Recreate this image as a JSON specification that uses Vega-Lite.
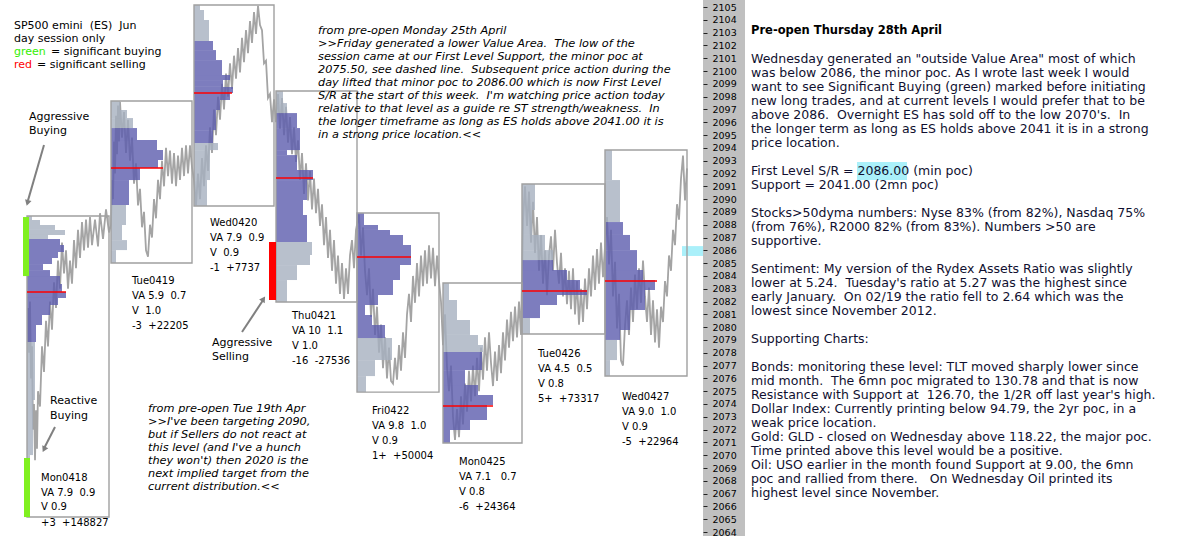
{
  "$schema": "https://vega.github.io/schema/vega-lite/v6.json",
  "padding": 0,
  "spacing": 0,
  "background": "white",
  "config": {"view": {"stroke": null}, "concat": {"spacing": 0}},
  "datasets": {
    "price": [
      {"t":28,"p":2081.5},{"t":29,"p":2078.0},{"t":30,"p":2082.0},{"t":31,"p":2076.0},{"t":32,"p":2078.5},{"t":33,"p":2072.0},{"t":34,"p":2074.0},{"t":35,"p":2069.6},{"t":36,"p":2073.5},{"t":37,"p":2070.5},{"t":38,"p":2075.0},{"t":40,"p":2073.8},{"t":42,"p":2078.5},{"t":44,"p":2076.5},{"t":46,"p":2080.5},{"t":48,"p":2078.5},{"t":50,"p":2082.0},{"t":52,"p":2079.8},{"t":54,"p":2083.5},{"t":56,"p":2081.5},{"t":58,"p":2085.2},{"t":60,"p":2083.0},{"t":62,"p":2086.6},{"t":64,"p":2084.2},{"t":66,"p":2086.0},{"t":68,"p":2083.0},{"t":70,"p":2085.2},{"t":72,"p":2083.4},{"t":74,"p":2086.8},{"t":76,"p":2084.6},{"t":78,"p":2087.6},{"t":80,"p":2085.4},{"t":82,"p":2088.2},{"t":84,"p":2086.0},{"t":86,"p":2088.4},{"t":88,"p":2086.2},{"t":90,"p":2088.6},{"t":92,"p":2086.4},{"t":95,"p":2088.4},{"t":98,"p":2086.3},{"t":100,"p":2088.9},{"t":103,"p":2086.9},{"t":106,"p":2089.2},{"t":109,"p":2087.4},
      {"t":111,"p":2088.0},{"t":112,"p":2091.5},{"t":113,"p":2090.0},{"t":114,"p":2094.5},{"t":115,"p":2092.0},{"t":116,"p":2096.5},{"t":117,"p":2093.5},{"t":118,"p":2097.3},{"t":119,"p":2094.5},{"t":120,"p":2097.6},{"t":122,"p":2094.8},{"t":124,"p":2096.8},{"t":126,"p":2093.6},{"t":128,"p":2096.2},{"t":130,"p":2093.0},{"t":132,"p":2094.8},{"t":134,"p":2091.2},{"t":136,"p":2092.8},{"t":138,"p":2089.5},{"t":140,"p":2090.8},{"t":142,"p":2087.8},{"t":144,"p":2089.0},{"t":146,"p":2086.0},{"t":148,"p":2085.5},{"t":150,"p":2088.0},{"t":152,"p":2087.0},{"t":154,"p":2090.0},{"t":156,"p":2088.5},{"t":158,"p":2091.5},{"t":160,"p":2090.0},{"t":162,"p":2093.0},{"t":164,"p":2091.0},{"t":166,"p":2094.0},{"t":168,"p":2091.8},{"t":170,"p":2093.8},{"t":172,"p":2091.2},{"t":174,"p":2093.6},{"t":176,"p":2091.0},{"t":178,"p":2093.4},{"t":180,"p":2091.5},{"t":182,"p":2094.0},{"t":184,"p":2091.8},{"t":186,"p":2094.2},{"t":188,"p":2092.0},{"t":190,"p":2094.2},{"t":192,"p":2092.5},
      {"t":194,"p":2091.5},{"t":196,"p":2089.5},{"t":198,"p":2092.0},{"t":200,"p":2090.0},{"t":202,"p":2093.2},{"t":204,"p":2091.0},{"t":206,"p":2094.2},{"t":208,"p":2092.2},{"t":210,"p":2095.6},{"t":212,"p":2093.6},{"t":214,"p":2097.0},{"t":216,"p":2095.0},{"t":218,"p":2098.0},{"t":220,"p":2096.2},{"t":222,"p":2099.0},{"t":224,"p":2097.0},{"t":226,"p":2099.8},{"t":228,"p":2098.0},{"t":230,"p":2100.6},{"t":232,"p":2098.6},{"t":234,"p":2101.2},{"t":236,"p":2099.4},{"t":238,"p":2101.8},{"t":240,"p":2099.9},{"t":242,"p":2102.6},{"t":244,"p":2100.7},{"t":246,"p":2103.2},{"t":248,"p":2101.4},{"t":250,"p":2103.9},{"t":252,"p":2102.2},{"t":254,"p":2104.6},{"t":256,"p":2102.9},{"t":258,"p":2105.1},{"t":260,"p":2103.6},{"t":262,"p":2103.2},{"t":264,"p":2100.6},{"t":266,"p":2100.8},{"t":268,"p":2097.9},{"t":270,"p":2098.2},{"t":272,"p":2096.0},{"t":274,"p":2097.8},
      {"t":276,"p":2096.0},{"t":278,"p":2098.2},{"t":280,"p":2095.5},{"t":282,"p":2097.9},{"t":284,"p":2095.0},{"t":286,"p":2097.2},{"t":288,"p":2094.4},{"t":290,"p":2096.4},{"t":292,"p":2093.5},{"t":294,"p":2095.6},{"t":296,"p":2092.9},{"t":298,"p":2094.6},{"t":300,"p":2091.5},{"t":302,"p":2093.6},{"t":304,"p":2090.4},{"t":306,"p":2092.8},{"t":308,"p":2089.9},{"t":310,"p":2092.2},{"t":312,"p":2089.2},{"t":314,"p":2091.6},{"t":316,"p":2088.9},{"t":318,"p":2090.8},{"t":320,"p":2087.9},{"t":322,"p":2089.6},{"t":324,"p":2086.4},{"t":326,"p":2088.6},{"t":328,"p":2085.4},{"t":330,"p":2087.6},{"t":332,"p":2084.4},{"t":334,"p":2086.8},{"t":336,"p":2083.4},{"t":338,"p":2085.6},{"t":340,"p":2082.6},{"t":342,"p":2085.0},{"t":344,"p":2082.2},{"t":346,"p":2084.6},{"t":348,"p":2082.6},{"t":350,"p":2085.6},{"t":352,"p":2086.8},{"t":354,"p":2084.6},{"t":356,"p":2087.6},
      {"t":359,"p":2088.8},{"t":361,"p":2085.6},{"t":363,"p":2087.8},{"t":365,"p":2084.4},{"t":367,"p":2082.5},{"t":369,"p":2084.6},{"t":371,"p":2080.8},{"t":373,"p":2083.0},{"t":375,"p":2079.4},{"t":377,"p":2081.6},{"t":379,"p":2078.0},{"t":381,"p":2080.2},{"t":383,"p":2076.8},{"t":385,"p":2079.2},{"t":387,"p":2076.0},{"t":389,"p":2078.4},{"t":391,"p":2075.8},{"t":393,"p":2075.6},{"t":395,"p":2077.6},{"t":397,"p":2075.9},{"t":399,"p":2078.6},{"t":401,"p":2076.6},{"t":403,"p":2079.6},{"t":405,"p":2077.6},{"t":407,"p":2081.0},{"t":409,"p":2082.6},{"t":411,"p":2080.4},{"t":413,"p":2084.0},{"t":415,"p":2081.9},{"t":417,"p":2085.0},{"t":419,"p":2082.4},{"t":421,"p":2085.6},{"t":423,"p":2083.2},{"t":425,"p":2086.0},{"t":427,"p":2083.4},{"t":429,"p":2086.4},{"t":431,"p":2083.8},{"t":433,"p":2086.2},{"t":435,"p":2083.2},{"t":437,"p":2085.6},{"t":439,"p":2083.6},
      {"t":441,"p":2082.0},{"t":443,"p":2078.6},{"t":445,"p":2081.0},{"t":447,"p":2076.9},{"t":449,"p":2075.0},{"t":451,"p":2077.0},{"t":453,"p":2073.0},{"t":455,"p":2071.2},{"t":457,"p":2073.6},{"t":459,"p":2071.4},{"t":461,"p":2074.6},{"t":463,"p":2072.4},{"t":465,"p":2075.6},{"t":467,"p":2073.4},{"t":469,"p":2076.6},{"t":471,"p":2074.2},{"t":473,"p":2077.0},{"t":475,"p":2074.6},{"t":477,"p":2077.6},{"t":479,"p":2075.0},{"t":481,"p":2078.4},{"t":483,"p":2075.9},{"t":485,"p":2079.2},{"t":487,"p":2076.6},{"t":489,"p":2079.6},{"t":491,"p":2077.2},{"t":493,"p":2075.4},{"t":495,"p":2078.1},{"t":497,"p":2075.8},{"t":499,"p":2078.6},{"t":501,"p":2076.4},{"t":503,"p":2079.6},{"t":505,"p":2077.4},{"t":507,"p":2080.6},{"t":509,"p":2078.4},{"t":511,"p":2081.2},{"t":513,"p":2078.9},{"t":515,"p":2081.6},{"t":517,"p":2079.2},{"t":519,"p":2082.0},{"t":521,"p":2079.4},
      {"t":523,"p":2088.4},{"t":525,"p":2091.0},{"t":527,"p":2087.9},{"t":529,"p":2090.6},{"t":531,"p":2086.6},{"t":533,"p":2089.8},{"t":535,"p":2085.8},{"t":537,"p":2088.6},{"t":539,"p":2084.4},{"t":541,"p":2087.2},{"t":543,"p":2083.4},{"t":545,"p":2086.0},{"t":547,"p":2082.5},{"t":549,"p":2085.6},{"t":551,"p":2087.1},{"t":553,"p":2084.4},{"t":555,"p":2087.6},{"t":557,"p":2085.0},{"t":559,"p":2083.4},{"t":561,"p":2085.8},{"t":563,"p":2082.4},{"t":565,"p":2084.6},{"t":567,"p":2081.8},{"t":569,"p":2084.4},{"t":571,"p":2081.4},{"t":573,"p":2084.6},{"t":575,"p":2081.0},{"t":577,"p":2083.6},{"t":579,"p":2080.2},{"t":581,"p":2083.0},{"t":583,"p":2080.4},{"t":585,"p":2083.8},{"t":587,"p":2081.4},{"t":589,"p":2084.6},{"t":591,"p":2082.4},{"t":593,"p":2085.6},{"t":595,"p":2082.9},{"t":597,"p":2086.1},{"t":599,"p":2083.4},{"t":601,"p":2086.6},{"t":603,"p":2083.9},
      {"t":607,"p":2088.6},{"t":609,"p":2084.9},{"t":611,"p":2087.6},{"t":613,"p":2082.4},{"t":615,"p":2085.1},{"t":617,"p":2079.9},{"t":619,"p":2082.6},{"t":621,"p":2077.4},{"t":623,"p":2077.0},{"t":625,"p":2080.1},{"t":627,"p":2082.1},{"t":629,"p":2079.4},{"t":631,"p":2083.1},{"t":633,"p":2080.4},{"t":635,"p":2084.1},{"t":637,"p":2081.4},{"t":639,"p":2084.6},{"t":641,"p":2081.9},{"t":643,"p":2085.2},{"t":645,"p":2082.4},{"t":647,"p":2080.4},{"t":649,"p":2083.1},{"t":651,"p":2079.4},{"t":653,"p":2082.1},{"t":655,"p":2078.8},{"t":657,"p":2081.4},{"t":659,"p":2078.4},{"t":661,"p":2081.6},{"t":663,"p":2080.4},{"t":665,"p":2083.6},{"t":667,"p":2082.4},{"t":669,"p":2085.6},{"t":671,"p":2084.4},{"t":673,"p":2087.6},{"t":675,"p":2086.4},{"t":677,"p":2089.6},{"t":679,"p":2088.4},{"t":681,"p":2091.6},{"t":683,"p":2093.4},{"t":685,"p":2089.9},{"t":687,"p":2092.4}
    ],
    "prof": [
      {"t":27,"t2":32,"p":2088.37,"p2":2088.68,"va":"out"},{"t":27,"t2":40,"p":2087.98,"p2":2088.37,"va":"out"},{"t":27,"t2":55,"p":2087.59,"p2":2087.98,"va":"out"},{"t":27,"t2":65,"p":2087.2,"p2":2087.59,"va":"out"},{"t":27,"t2":48,"p":2086.88,"p2":2087.2,"va":"out"},
      {"t":27,"t2":60,"p":2086.41,"p2":2086.88,"va":"in"},{"t":27,"t2":64,"p":2085.87,"p2":2086.41,"va":"in"},{"t":27,"t2":58,"p":2085.4,"p2":2085.87,"va":"in"},{"t":27,"t2":52,"p":2084.93,"p2":2085.4,"va":"in"},{"t":27,"t2":43,"p":2084.46,"p2":2084.93,"va":"in"},{"t":27,"t2":50,"p":2083.99,"p2":2084.46,"va":"in"},{"t":27,"t2":60,"p":2083.37,"p2":2083.99,"va":"in"},{"t":27,"t2":62,"p":2082.74,"p2":2083.37,"va":"in"},{"t":27,"t2":66,"p":2082.28,"p2":2082.74,"va":"in"},{"t":27,"t2":58,"p":2081.73,"p2":2082.28,"va":"in"},{"t":27,"t2":50,"p":2080.95,"p2":2081.73,"va":"in"},{"t":27,"t2":42,"p":2080.17,"p2":2080.95,"va":"in"},{"t":27,"t2":36,"p":2078.84,"p2":2080.17,"va":"in"},
      {"t":27,"t2":35,"p":2074.31,"p2":2078.84,"va":"out"},{"t":27,"t2":33,"p":2070.01,"p2":2074.31,"va":"out"},{"t":27,"t2":30,"p":2065.17,"p2":2070.01,"va":"out"},
      {"t":111,"t2":120,"p":2096.96,"p2":2097.66,"va":"out"},{"t":111,"t2":127,"p":2096.33,"p2":2096.96,"va":"out"},{"t":111,"t2":133,"p":2095.55,"p2":2096.33,"va":"out"},
      {"t":111,"t2":137,"p":2094.61,"p2":2095.55,"va":"in"},{"t":111,"t2":157,"p":2093.83,"p2":2094.61,"va":"in"},{"t":111,"t2":163,"p":2093.05,"p2":2093.83,"va":"in"},{"t":111,"t2":158,"p":2092.43,"p2":2093.05,"va":"in"},{"t":111,"t2":140,"p":2091.49,"p2":2092.43,"va":"in"},{"t":111,"t2":129,"p":2089.54,"p2":2091.49,"va":"in"},
      {"t":111,"t2":126,"p":2087.98,"p2":2089.54,"va":"out"},{"t":111,"t2":122,"p":2086.8,"p2":2087.98,"va":"out"},{"t":111,"t2":127,"p":2086.02,"p2":2086.8,"va":"out"},{"t":111,"t2":116,"p":2085.01,"p2":2086.02,"va":"out"},
      {"t":194,"t2":200,"p":2104.77,"p2":2105.16,"va":"out"},{"t":194,"t2":204,"p":2103.99,"p2":2104.77,"va":"out"},{"t":194,"t2":209,"p":2102.35,"p2":2103.99,"va":"out"},
      {"t":194,"t2":213,"p":2101.64,"p2":2102.35,"va":"in"},{"t":194,"t2":216,"p":2100.86,"p2":2101.64,"va":"in"},{"t":194,"t2":222,"p":2099.69,"p2":2100.86,"va":"in"},{"t":194,"t2":230,"p":2099.3,"p2":2099.69,"va":"in"},{"t":194,"t2":223,"p":2098.76,"p2":2099.3,"va":"in"},{"t":194,"t2":233,"p":2098.28,"p2":2098.76,"va":"in"},{"t":194,"t2":230,"p":2097.74,"p2":2098.28,"va":"in"},{"t":194,"t2":220,"p":2096.96,"p2":2097.74,"va":"in"},{"t":194,"t2":216,"p":2095.39,"p2":2096.96,"va":"in"},{"t":194,"t2":213,"p":2094.38,"p2":2095.39,"va":"in"},
      {"t":194,"t2":218,"p":2093.83,"p2":2094.38,"va":"out"},{"t":194,"t2":210,"p":2091.49,"p2":2093.83,"va":"out"},{"t":194,"t2":207,"p":2089.46,"p2":2091.49,"va":"out"},
      {"t":276,"t2":283,"p":2097.5,"p2":2098.44,"va":"out"},{"t":276,"t2":287,"p":2096.72,"p2":2097.5,"va":"out"},
      {"t":276,"t2":297,"p":2095.55,"p2":2096.72,"va":"in"},{"t":276,"t2":300,"p":2093.83,"p2":2095.55,"va":"in"},{"t":276,"t2":287,"p":2093.44,"p2":2093.83,"va":"in"},{"t":276,"t2":297,"p":2092.27,"p2":2093.44,"va":"in"},{"t":276,"t2":313,"p":2091.49,"p2":2092.27,"va":"in"},{"t":276,"t2":307,"p":2089.93,"p2":2091.49,"va":"in"},{"t":276,"t2":303,"p":2088.76,"p2":2089.93,"va":"in"},{"t":276,"t2":307,"p":2086.65,"p2":2088.76,"va":"in"},
      {"t":276,"t2":312,"p":2085.63,"p2":2086.65,"va":"out"},{"t":276,"t2":310,"p":2084.85,"p2":2085.63,"va":"out"},{"t":276,"t2":297,"p":2083.68,"p2":2084.85,"va":"out"},{"t":276,"t2":287,"p":2081.96,"p2":2083.68,"va":"out"},
      {"t":357,"t2":364,"p":2087.98,"p2":2088.91,"va":"in"},{"t":357,"t2":378,"p":2087.59,"p2":2087.98,"va":"in"},{"t":357,"t2":390,"p":2087.2,"p2":2087.59,"va":"in"},{"t":357,"t2":403,"p":2086.41,"p2":2087.2,"va":"in"},{"t":357,"t2":411,"p":2085.63,"p2":2086.41,"va":"in"},{"t":357,"t2":411,"p":2084.85,"p2":2085.63,"va":"in"},{"t":357,"t2":400,"p":2083.68,"p2":2084.85,"va":"in"},{"t":357,"t2":393,"p":2082.51,"p2":2083.68,"va":"in"},{"t":357,"t2":378,"p":2081.73,"p2":2082.51,"va":"in"},{"t":357,"t2":365,"p":2080.95,"p2":2081.73,"va":"in"},{"t":357,"t2":372,"p":2080.17,"p2":2080.95,"va":"in"},{"t":357,"t2":385,"p":2079.15,"p2":2080.17,"va":"in"},
      {"t":357,"t2":392,"p":2077.43,"p2":2079.15,"va":"out"},{"t":357,"t2":375,"p":2076.18,"p2":2077.43,"va":"out"},{"t":357,"t2":366,"p":2074.93,"p2":2076.18,"va":"out"},
      {"t":443,"t2":449,"p":2082.12,"p2":2083.45,"va":"out"},{"t":443,"t2":457,"p":2080.56,"p2":2082.12,"va":"out"},{"t":443,"t2":470,"p":2079.39,"p2":2080.56,"va":"out"},{"t":443,"t2":478,"p":2078.61,"p2":2079.39,"va":"out"},{"t":443,"t2":483,"p":2078.06,"p2":2078.61,"va":"out"},
      {"t":443,"t2":482,"p":2076.65,"p2":2078.06,"va":"in"},{"t":443,"t2":465,"p":2075.48,"p2":2076.65,"va":"in"},{"t":443,"t2":478,"p":2074.7,"p2":2075.48,"va":"in"},{"t":443,"t2":493,"p":2073.92,"p2":2074.7,"va":"in"},{"t":443,"t2":487,"p":2072.75,"p2":2073.92,"va":"in"},{"t":443,"t2":470,"p":2071.97,"p2":2072.75,"va":"in"},{"t":443,"t2":450,"p":2070.95,"p2":2071.97,"va":"in"},
      {"t":522,"t2":535,"p":2089.15,"p2":2091.18,"va":"out"},{"t":522,"t2":532,"p":2087.2,"p2":2089.15,"va":"out"},{"t":522,"t2":545,"p":2086.02,"p2":2087.2,"va":"out"},{"t":522,"t2":553,"p":2085.24,"p2":2086.02,"va":"out"},
      {"t":522,"t2":553,"p":2084.46,"p2":2085.24,"va":"in"},{"t":522,"t2":567,"p":2083.68,"p2":2084.46,"va":"in"},{"t":522,"t2":580,"p":2082.9,"p2":2083.68,"va":"in"},{"t":522,"t2":587,"p":2082.51,"p2":2082.9,"va":"in"},{"t":522,"t2":557,"p":2081.73,"p2":2082.51,"va":"in"},{"t":522,"t2":540,"p":2080.71,"p2":2081.73,"va":"in"},
      {"t":522,"t2":530,"p":2079.46,"p2":2080.71,"va":"out"},
      {"t":605,"t2":612,"p":2091.49,"p2":2093.83,"va":"out"},{"t":605,"t2":620,"p":2088.21,"p2":2091.49,"va":"out"},
      {"t":605,"t2":623,"p":2087.2,"p2":2088.21,"va":"in"},{"t":605,"t2":630,"p":2086.02,"p2":2087.2,"va":"in"},{"t":605,"t2":637,"p":2084.46,"p2":2086.02,"va":"in"},{"t":605,"t2":643,"p":2083.68,"p2":2084.46,"va":"in"},{"t":605,"t2":655,"p":2082.9,"p2":2083.68,"va":"in"},{"t":605,"t2":645,"p":2081.34,"p2":2082.9,"va":"in"},{"t":605,"t2":630,"p":2079.78,"p2":2081.34,"va":"in"},{"t":605,"t2":620,"p":2079.0,"p2":2079.78,"va":"in"},
      {"t":605,"t2":617,"p":2077.43,"p2":2079.0,"va":"out"},{"t":605,"t2":610,"p":2076.18,"p2":2077.43,"va":"out"}
    ],
    "boxes": [
      {"t":27,"t2":109,"p":2065.17,"p2":2088.68},
      {"t":111,"t2":192,"p":2085.01,"p2":2097.66},
      {"t":194,"t2":274,"p":2089.46,"p2":2105.16},
      {"t":276,"t2":357,"p":2081.96,"p2":2098.44},
      {"t":357,"t2":439,"p":2074.93,"p2":2088.91},
      {"t":443,"t2":522,"p":2070.95,"p2":2083.45},
      {"t":522,"t2":605,"p":2079.46,"p2":2091.18},
      {"t":605,"t2":687,"p":2076.18,"p2":2093.83}
    ],
    "poc": [
      {"t":27,"t2":66,"p":2082.74},
      {"t":111,"t2":163,"p":2092.43},
      {"t":194,"t2":232,"p":2098.28},
      {"t":276,"t2":313,"p":2091.65},
      {"t":357,"t2":411,"p":2085.48},
      {"t":443,"t2":493,"p":2073.84},
      {"t":522,"t2":587,"p":2082.82},
      {"t":605,"t2":657,"p":2083.6}
    ],
    "flags": [
      {"t":23,"t2":29,"p":2083.99,"p2":2088.6,"k":"buy"},
      {"t":24,"t2":30,"p":2065.17,"p2":2069.78,"k":"buy"},
      {"t":269,"t2":276,"p":2082.12,"p2":2086.65,"k":"sell"}
    ],
    "arrows": [
      {"t":44,"p":2094.22,"t2":28,"p2":2089.9},
      {"t":242,"p":2079.62,"t2":263,"p2":2082.1},
      {"t":55,"p":2072.2,"t2":44.5,"p2":2070.6}
    ],
    "heads": [
      {"t":27.5,"p":2089.7,"a":16},
      {"t":263.5,"p":2082.2,"a":213},
      {"t":44,"p":2070.45,"a":26}
    ],
    "texts": [
      {"t":14,"p":2103.52,"text":"SP500 emini\u00a0\u00a0(ES)\u00a0\u00a0Jun","k":"leg"},
      {"t":14,"p":2102.5,"text":"day session only","k":"leg"},
      {"t":14,"p":2101.49,"text":"green","k":"green"},
      {"t":51,"p":2101.49,"text":"= significant buying","k":"leg"},
      {"t":14,"p":2100.47,"text":"red","k":"red"},
      {"t":37,"p":2100.47,"text":"= significant selling","k":"leg"},
      {"t":29,"p":2096.41,"text":"Aggressive","k":"big"},
      {"t":29,"p":2095.32,"text":"Buying","k":"big"},
      {"t":212,"p":2078.76,"text":"Aggressive","k":"big"},
      {"t":212,"p":2077.67,"text":"Selling","k":"big"},
      {"t":50,"p":2074.23,"text":"Reactive","k":"big"},
      {"t":50,"p":2073.06,"text":"Buying","k":"big"},
      {"t":318,"p":2103.13,"text":"from pre-open Monday 25th April","k":"note"},
      {"t":318,"p":2102.11,"text":">>Friday generated a lower Value Area.\u00a0\u00a0The low of the","k":"note"},
      {"t":318,"p":2101.1,"text":"session came at our First Level Support, the minor poc at","k":"note"},
      {"t":318,"p":2100.08,"text":"2075.50, see dashed line.\u00a0\u00a0Subsequent price action during the","k":"note"},
      {"t":318,"p":2099.07,"text":"day lifted that minor poc to 2086.00 which is now First Level","k":"note"},
      {"t":318,"p":2098.05,"text":"S/R at the start of this week.\u00a0\u00a0I'm watching price action today","k":"note"},
      {"t":318,"p":2097.03,"text":"relative to that level as a guide re ST strength/weakness.\u00a0\u00a0In","k":"note"},
      {"t":318,"p":2096.02,"text":"the longer timeframe as long as ES holds above 2041.00 it is","k":"note"},
      {"t":318,"p":2095.0,"text":"in a strong price location.<<","k":"note"},
      {"t":148,"p":2073.61,"text":"from pre-open Tue 19th Apr","k":"note"},
      {"t":148,"p":2072.59,"text":">>I've been targeting 2090,","k":"note"},
      {"t":148,"p":2071.58,"text":"but if Sellers do not react at","k":"note"},
      {"t":148,"p":2070.56,"text":"this level (and I've a hunch","k":"note"},
      {"t":148,"p":2069.55,"text":"they won't) then 2020 is the","k":"note"},
      {"t":148,"p":2068.53,"text":"next implied target from the","k":"note"},
      {"t":148,"p":2067.51,"text":"current distribution.<<","k":"note"},
      {"t":41,"p":2068.22,"text":"Mon0418","k":"lab"},
      {"t":41,"p":2067.05,"text":"VA 7.9\u00a0\u00a00.9","k":"lab"},
      {"t":41,"p":2065.95,"text":"V 0.9","k":"lab"},
      {"t":41,"p":2064.7,"text":"+3\u00a0\u00a0+148827","k":"lab"},
      {"t":132,"p":2083.6,"text":"Tue0419","k":"lab"},
      {"t":132,"p":2082.43,"text":"VA 5.9\u00a0\u00a00.7","k":"lab"},
      {"t":132,"p":2081.26,"text":"V\u00a0\u00a01.0","k":"lab"},
      {"t":132,"p":2080.09,"text":"-3\u00a0\u00a0+22205","k":"lab"},
      {"t":210,"p":2088.13,"text":"Wed0420","k":"lab"},
      {"t":210,"p":2086.96,"text":"VA 7.9\u00a0\u00a00.9","k":"lab"},
      {"t":210,"p":2085.79,"text":"V\u00a0\u00a00.9","k":"lab"},
      {"t":210,"p":2084.62,"text":"-1\u00a0\u00a0+7737","k":"lab"},
      {"t":292,"p":2080.87,"text":"Thu0421","k":"lab"},
      {"t":292,"p":2079.7,"text":"VA 10\u00a0\u00a01.1","k":"lab"},
      {"t":292,"p":2078.53,"text":"V 1.0","k":"lab"},
      {"t":292,"p":2077.36,"text":"-16\u00a0\u00a0-27536","k":"lab"},
      {"t":372,"p":2073.45,"text":"Fri0422","k":"lab"},
      {"t":372,"p":2072.28,"text":"VA 9.8\u00a0\u00a01.0","k":"lab"},
      {"t":372,"p":2071.11,"text":"V 0.9","k":"lab"},
      {"t":372,"p":2069.94,"text":"1+\u00a0\u00a0+50004","k":"lab"},
      {"t":459,"p":2069.47,"text":"Mon0425","k":"lab"},
      {"t":459,"p":2068.3,"text":"VA 7.1\u00a0\u00a0\u00a00.7","k":"lab"},
      {"t":459,"p":2067.12,"text":"V 0.8","k":"lab"},
      {"t":459,"p":2065.95,"text":"-6\u00a0\u00a0+24364","k":"lab"},
      {"t":538,"p":2077.9,"text":"Tue0426","k":"lab"},
      {"t":538,"p":2076.73,"text":"VA 4.5\u00a0\u00a00.5","k":"lab"},
      {"t":538,"p":2075.56,"text":"V 0.8","k":"lab"},
      {"t":538,"p":2074.39,"text":"5+\u00a0\u00a0+73317","k":"lab"},
      {"t":622,"p":2074.54,"text":"Wed0427","k":"lab"},
      {"t":622,"p":2073.37,"text":"VA 9.0\u00a0\u00a01.0","k":"lab"},
      {"t":622,"p":2072.2,"text":"V 0.9","k":"lab"},
      {"t":622,"p":2071.03,"text":"-5\u00a0\u00a0+22964","k":"lab"}
    ],
    "comment": [
      {"x":6,"n":0,"k":"title","text":"Pre-open Thursday 28th April"},
      {"x":6,"n":2,"k":"body","text":"Wednesday generated an \"outside Value Area\" most of which"},
      {"x":6,"n":3,"k":"body","text":"was below 2086, the minor poc. As I wrote last week I would"},
      {"x":6,"n":4,"k":"body","text":"want to see Significant Buying (green) marked before initiating"},
      {"x":6,"n":5,"k":"body","text":"new long trades, and at current levels I would prefer that to be"},
      {"x":6,"n":6,"k":"body","text":"above 2086.\u00a0\u00a0Overnight ES has sold off to the low 2070's.\u00a0\u00a0In"},
      {"x":6,"n":7,"k":"body","text":"the longer term as long as ES holds above 2041 it is in a strong"},
      {"x":6,"n":8,"k":"body","text":"price location."},
      {"x":6,"n":10,"k":"body","text":"First Level S/R = 2086.00 (min poc)"},
      {"x":6,"n":11,"k":"body","text":"Support = 2041.00 (2mn poc)"},
      {"x":6,"n":13,"k":"body","text":"Stocks>50dyma numbers: Nyse 83% (from 82%), Nasdaq 75%"},
      {"x":6,"n":14,"k":"body","text":"(from 76%), R2000 82% (from 83%). Numbers >50 are"},
      {"x":6,"n":15,"k":"body","text":"supportive."},
      {"x":6,"n":17,"k":"body","text":"Sentiment: My version of the Rydex Assets Ratio was slightly"},
      {"x":6,"n":18,"k":"body","text":"lower at 5.24.\u00a0\u00a0Tuesday's ratio at 5.27 was the highest since"},
      {"x":6,"n":19,"k":"body","text":"early January.\u00a0\u00a0On 02/19 the ratio fell to 2.64 which was the"},
      {"x":6,"n":20,"k":"body","text":"lowest since November 2012."},
      {"x":6,"n":22,"k":"body","text":"Supporting Charts:"},
      {"x":6,"n":24,"k":"body","text":"Bonds: monitoring these level: TLT moved sharply lower since"},
      {"x":6,"n":25,"k":"body","text":"mid month.\u00a0\u00a0The 6mn poc migrated to 130.78 and that is now"},
      {"x":6,"n":26,"k":"body","text":"Resistance with Support at\u00a0\u00a0126.70, the 1/2R off last year's high."},
      {"x":6,"n":27,"k":"body","text":"Dollar Index: Currently printing below 94.79, the 2yr poc, in a"},
      {"x":6,"n":28,"k":"body","text":"weak price location."},
      {"x":6,"n":29,"k":"body","text":"Gold: GLD - closed on Wednesday above 118.22, the major poc."},
      {"x":6,"n":30,"k":"body","text":"Time printed above this level would be a positive."},
      {"x":6,"n":31,"k":"body","text":"Oil: USO earlier in the month found Support at 9.00, the 6mn"},
      {"x":6,"n":32,"k":"body","text":"poc and rallied from there.\u00a0\u00a0\u00a0On Wednesday Oil printed its"},
      {"x":6,"n":33,"k":"body","text":"highest level since November."}
    ]
  },
  "hconcat": [
    {
      "width": 745,
      "height": 536,
      "encoding": {
        "x": {"field": "t", "type": "quantitative", "scale": {"domain": [0, 745], "nice": false, "zero": false}, "axis": null},
        "y": {"field": "p", "type": "quantitative", "scale": {"domain": [2063.69, 2105.55], "nice": false, "zero": false},
              "axis": {"orient": "right", "offset": -42, "zindex": 2, "title": null, "domain": false, "grid": false,
                       "values": [2064,2065,2066,2067,2068,2069,2070,2071,2072,2073,2074,2075,2076,2077,2078,2079,2080,2081,2082,2083,2084,2085,2086,2087,2088,2089,2090,2091,2092,2093,2094,2095,2096,2097,2098,2099,2100,2101,2102,2103,2104,2105],
                       "format": "d", "tickSize": 4, "tickColor": "#222222", "tickWidth": 1,
                       "labelFont": "DejaVu Sans", "labelFontSize": 9.5, "labelColor": "#000000", "labelPadding": 5,
                       "labelOverlap": false, "labelFlush": false, "labelBaseline": "middle"}}
      },
      "layer": [
        {"data": {"values": [{"t": 703, "t2": 745, "p": 2063.69, "p2": 2105.55}]},
         "mark": {"type": "rect", "color": "#c0c0c0"},
         "encoding": {"x2": {"field": "t2"}, "y2": {"field": "p2"}}},
        {"data": {"values": [{"t": 682, "t2": 703, "p": 2085.56, "p2": 2086.33}]},
         "mark": {"type": "rect", "color": "#aaf0fa"},
         "encoding": {"x2": {"field": "t2"}, "y2": {"field": "p2"}}},
        {"data": {"name": "price"},
         "mark": {"type": "line", "color": "#a4a4a4", "strokeWidth": 1.8},
         "encoding": {}},
        {"data": {"name": "prof"},
         "transform": [{"filter": "datum.va == 'out'"}],
         "mark": {"type": "rect", "color": "#a6b0bf", "opacity": 0.8},
         "encoding": {"x2": {"field": "t2"}, "y2": {"field": "p2"}}},
        {"data": {"name": "prof"},
         "transform": [{"filter": "datum.va == 'in'"}],
         "mark": {"type": "rect", "color": "#5c5cae", "opacity": 0.8},
         "encoding": {"x2": {"field": "t2"}, "y2": {"field": "p2"}}},
        {"data": {"name": "boxes"},
         "mark": {"type": "rect", "fillOpacity": 0, "stroke": "#a0a0a0", "strokeWidth": 1.4},
         "encoding": {"x2": {"field": "t2"}, "y2": {"field": "p2"}}},
        {"data": {"name": "poc"},
         "mark": {"type": "rule", "color": "#ff0000", "strokeWidth": 1.5},
         "encoding": {"x2": {"field": "t2"}}},
        {"data": {"name": "flags"},
         "transform": [{"filter": "datum.k == 'buy'"}],
         "mark": {"type": "rect", "color": "#80f020"},
         "encoding": {"x2": {"field": "t2"}, "y2": {"field": "p2"}}},
        {"data": {"name": "flags"},
         "transform": [{"filter": "datum.k == 'sell'"}],
         "mark": {"type": "rect", "color": "#ff0000"},
         "encoding": {"x2": {"field": "t2"}, "y2": {"field": "p2"}}},
        {"data": {"name": "arrows"},
         "mark": {"type": "rule", "color": "#808080", "strokeWidth": 2},
         "encoding": {"x2": {"field": "t2"}, "y2": {"field": "p2"}}},
        {"data": {"name": "heads"},
         "mark": {"type": "point", "shape": "triangle-down", "filled": true, "color": "#808080", "size": 45, "opacity": 1},
         "encoding": {"angle": {"field": "a", "type": "quantitative", "scale": null}}},
        {"data": {"name": "texts"},
         "transform": [{"filter": "datum.k == 'lab'"}],
         "mark": {"type": "text", "align": "left", "baseline": "middle", "font": "DejaVu Sans", "fontSize": 10, "color": "#000000"},
         "encoding": {"text": {"field": "text"}}},
        {"data": {"name": "texts"},
         "transform": [{"filter": "datum.k == 'leg'"}],
         "mark": {"type": "text", "align": "left", "baseline": "middle", "font": "DejaVu Sans", "fontSize": 11, "color": "#000000"},
         "encoding": {"text": {"field": "text"}}},
        {"data": {"name": "texts"},
         "transform": [{"filter": "datum.k == 'big'"}],
         "mark": {"type": "text", "align": "left", "baseline": "middle", "font": "DejaVu Sans", "fontSize": 11, "color": "#000000"},
         "encoding": {"text": {"field": "text"}}},
        {"data": {"name": "texts"},
         "transform": [{"filter": "datum.k == 'note'"}],
         "mark": {"type": "text", "align": "left", "baseline": "middle", "font": "DejaVu Sans", "fontSize": 11.3, "fontStyle": "italic", "color": "#000000"},
         "encoding": {"text": {"field": "text"}}},
        {"data": {"name": "texts"},
         "transform": [{"filter": "datum.k == 'green'"}],
         "mark": {"type": "text", "align": "left", "baseline": "middle", "font": "DejaVu Sans", "fontSize": 11, "color": "#33ee00"},
         "encoding": {"text": {"field": "text"}}},
        {"data": {"name": "texts"},
         "transform": [{"filter": "datum.k == 'red'"}],
         "mark": {"type": "text", "align": "left", "baseline": "middle", "font": "DejaVu Sans", "fontSize": 11, "color": "#ff0000"},
         "encoding": {"text": {"field": "text"}}}
      ]
    },
    {
      "width": 453,
      "height": 536,
      "encoding": {
        "x": {"field": "x", "type": "quantitative", "scale": {"domain": [0, 453], "nice": false, "zero": false}, "axis": null},
        "y": {"field": "n", "type": "quantitative", "scale": {"domain": [-2.214, 36.071], "nice": false, "zero": false, "reverse": true}, "axis": null}
      },
      "layer": [
        {"data": {"values": [{"x": 112, "x2": 162, "n": 9.36, "n2": 10.64}]},
         "mark": {"type": "rect", "color": "#aaf0fa"},
         "encoding": {"x2": {"field": "x2"}, "y2": {"field": "n2"}}},
        {"data": {"name": "comment"},
         "transform": [{"filter": "datum.k == 'title'"}],
         "mark": {"type": "text", "align": "left", "baseline": "middle", "font": "DejaVu Sans", "fontSize": 11.5, "fontWeight": "bold", "color": "#000000"},
         "encoding": {"text": {"field": "text"}}},
        {"data": {"name": "comment"},
         "transform": [{"filter": "datum.k == 'body'"}],
         "mark": {"type": "text", "align": "left", "baseline": "middle", "font": "DejaVu Sans", "fontSize": 12.5, "color": "#101030"},
         "encoding": {"text": {"field": "text"}}}
      ]
    }
  ]
}
